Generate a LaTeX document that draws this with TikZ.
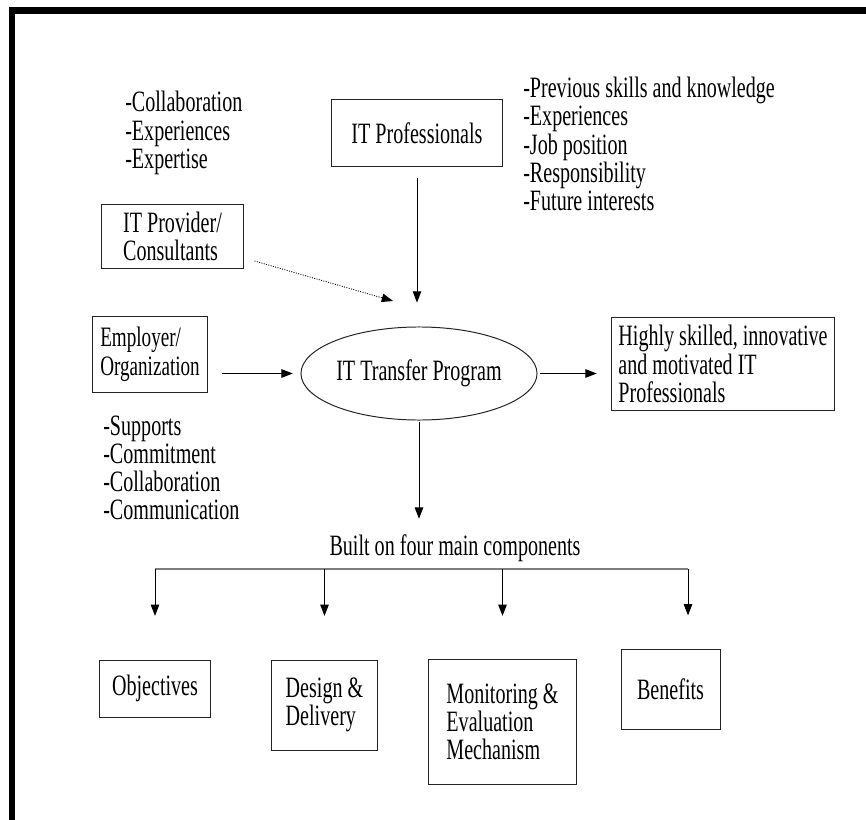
\documentclass[tikz,border=0pt]{standalone}
\usepackage{fontspec}
\setmainfont{Liberation Serif}[FakeStretch=0.68]
\usepackage{tikz}
\usetikzlibrary{shapes.geometric, arrows.meta, positioning}
\definecolor{barcolor}{RGB}{125, 125, 125}
\definecolor{edgecolor}{RGB}{35, 35, 35}

\tikzset{
    box/.style={draw=edgecolor, line width=0.7pt, inner sep=0pt},
    textlist/.style={anchor=west, align=left, inner sep=0pt},
    flow/.style={-{Triangle[length=8pt, width=6pt]}, line width=0.7pt},
}

\begin{document}
\begin{tikzpicture}[x=0.025cm, y=-0.025cm, font=\fontsize{21}{20}\selectfont]
        \useasboundingbox (0,0) rectangle (866,820);
        % Frame
        \draw[line width=4.3pt] (12,840) -- (12,10.5) -- (886,10.5);
        
        % Inputs
        \node[box, minimum width=4.25cm, minimum height=1.65cm] (itprof) at (417,133) {IT Professionals};
        \node[textlist] (proflist) at (523,144) {-Previous skills and knowledge\\-Experiences\\-Job position\\-Responsibility\\-Future interests};
        
        \node[textlist] (provlist) at (125,133) {-Collaboration\\-Experiences\\-Expertise};
        \node[box, minimum width=3.525cm, minimum height=1.575cm, align=left] (provider) at (172.5,236.5) {IT Provider/\\Consultants};
        
        \node[box, minimum width=2.85cm, minimum height=1.875cm, align=left, font=\fontsize{20}{21}\selectfont] (employer) at (150,354.5) {Employer/\\Organization};
        \node[textlist] (emplist) at (103,468) {-Supports\\-Commitment\\-Collaboration\\-Communication};
        
        % Program and result
        \node[box, ellipse, minimum width=5.9cm, minimum height=2.325cm] (program) at (419,373.5) {IT Transfer Program};
        \node[box, minimum width=5.55cm, minimum height=2.3cm, align=left] (result) at (723,364) {Highly skilled, innovative\\and motivated IT\\Professionals};
        
        \node[inner sep=0pt] (built) at (455,548) {Built on four main components};
        
        % Components
        \node[box, minimum width=2.775cm, minimum height=1.425cm] (objectives) at (155,688.5) {Objectives};
        \node[box, minimum width=2.625cm, minimum height=2.25cm, align=left] (design) at (324.5,705) {Design \&\\Delivery};
        \node[box, minimum width=3.675cm, minimum height=3.1cm, align=left] (monitor) at (502.5,722) {Monitoring \&\\Evaluation\\Mechanism};
        \node[box, minimum width=2.475cm, minimum height=2cm] (benefits) at (670.5,689) {Benefits};
        
        % Flows
        \draw[flow, shorten <=8.5pt, shorten >=17pt] (itprof.south) -- (itprof.south |- program.north);
        \coordinate (dotend) at (393,301);
        \draw[flow, densely dotted, line width=0.6pt] ([shift={(11,24.5)}]provider.east) -- (dotend);
        \draw[flow, shorten <=10pt, shorten >=5.5pt] (employer.east |- program.west) -- (program.west);
        \draw[flow, shorten <=2pt, shorten >=10.5pt] (program.east) -- (result.west |- program.east);
        \draw[flow, shorten <=1pt, shorten >=11pt] (program.south) -- (program.south |- built.north);
        
        % Bus to components
        \coordinate (busL) at (155,569);
        \coordinate (busR) at (688,569);
        \draw[line width=2pt, barcolor] (busL) -- (busR);
        \draw[flow, shorten >=31pt] (busL) -- (objectives.north);
        \draw[flow, shorten >=31pt] (design.north |- busL) -- (design.north);
        \draw[flow, shorten >=31pt] (monitor.north |- busL) -- (monitor.north);
        \draw[flow, shorten >=23.5pt] (busR) -- (busR |- benefits.north);
        
    \end{tikzpicture}
\end{document}
